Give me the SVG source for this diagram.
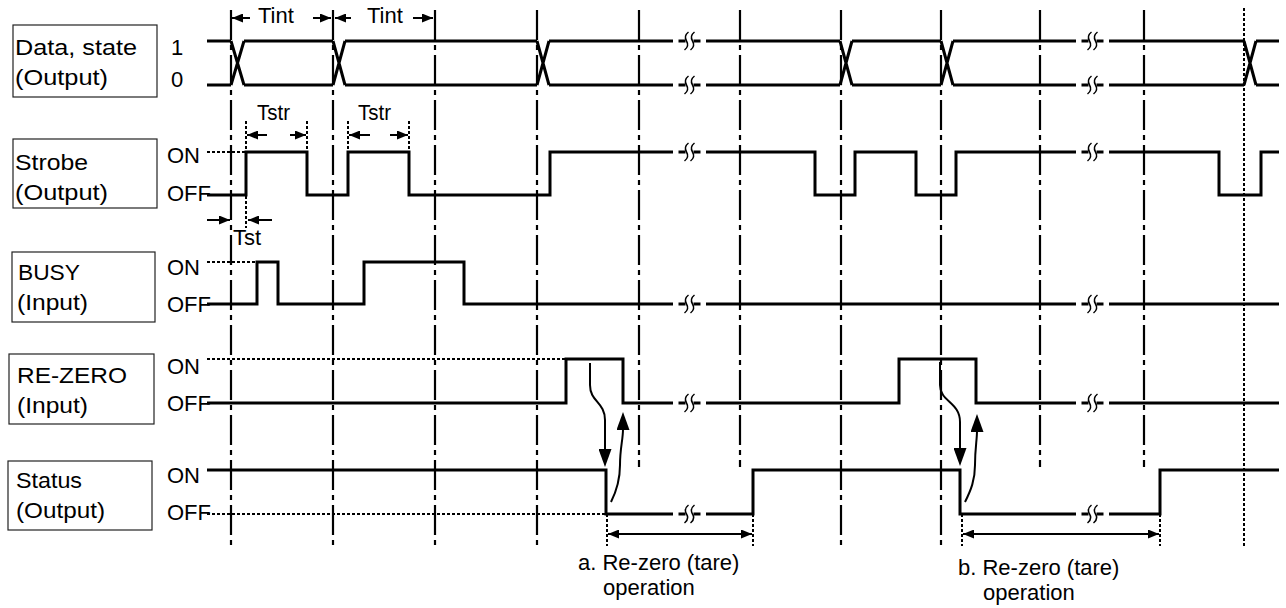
<svg xmlns="http://www.w3.org/2000/svg" width="1286" height="608" viewBox="0 0 1286 608">
<style>
text{font-family:"Liberation Sans",Arial,sans-serif;font-size:22px;fill:#000}
.box{fill:#fff;stroke:#222;stroke-width:1.2}
.sig{fill:none;stroke:#000;stroke-width:3;stroke-linejoin:miter;stroke-linecap:butt}
.grid{fill:none;stroke:#000;stroke-width:2.2;stroke-dasharray:30 5 5 5}
.dot{fill:none;stroke:#000;stroke-width:2;stroke-dasharray:3 2}
.dim{fill:none;stroke:#000;stroke-width:2}
.sq{fill:none;stroke:#000;stroke-width:1.5}
.ah{fill:#000}
</style>
<defs>
<marker id="arr" markerUnits="userSpaceOnUse" markerWidth="11" markerHeight="9" refX="11" refY="4.5" orient="auto-start-reverse"><path class="ah" d="M0,0L11,4.5L0,9z"/></marker>
<marker id="big" markerUnits="userSpaceOnUse" markerWidth="18" markerHeight="13" refX="1" refY="6.5" orient="auto"><path class="ah" d="M0,0L18,6.5L0,13z"/></marker>
<g id="brk"><path d="M-11,0H-4M4,0H11" stroke="#000" stroke-width="3"/><path class="sq" d="M-1,-9 Q-6,-5 -3,0 Q0,5 -5,9 M5,-9 Q0,-5 3,0 Q6,5 1,9"/></g>
</defs>

<g id="grid-lines">
<path class="grid" d="M231,10V548M333,10V548M435,10V548M537,10V548M639,10V467M740,10V467M841,10V548M941,10V548M1040,10V467M1144,10V467"/>
<path class="dot" d="M1244,8V548"/>
</g>

<g id="node-data">
<rect class="box" x="13" y="25" width="144" height="72"/>
<text x="15" y="55" textLength="122" lengthAdjust="spacingAndGlyphs">Data, state</text>
<text x="15" y="85" textLength="93" lengthAdjust="spacingAndGlyphs">(Output)</text>
<text x="177" y="55" text-anchor="middle">1</text>
<text x="177" y="87" text-anchor="middle">0</text>
<path class="sig" d="M207,41H231M244,41H333M345,41H537M549,41H673M706,41H840M852,41H941M953,41H1076M1109,41H1244M1256,41H1279"/>
<path class="sig" d="M207,85H231M244,85H333M345,85H537M549,85H673M706,85H840M852,85H941M953,85H1076M1109,85H1244M1256,85H1279"/>
<path class="sig" stroke-width="2.2" d="M231,41L244,85M231,85L244,41M333,41L345,85M333,85L345,41M537,41L549,85M537,85L549,41M840,41L852,85M840,85L852,41M941,41L953,85M941,85L953,41M1244,41L1256,85M1244,85L1256,41"/>
<use href="#brk" x="689.5" y="41"/><use href="#brk" x="1092.5" y="41"/>
<use href="#brk" x="689.5" y="85"/><use href="#brk" x="1092.5" y="85"/>
</g>

<g id="node-strobe">
<rect class="box" x="13" y="139" width="144" height="69"/>
<text x="15" y="170" textLength="73" lengthAdjust="spacingAndGlyphs">Strobe</text>
<text x="15" y="200" textLength="93" lengthAdjust="spacingAndGlyphs">(Output)</text>
<text x="167" y="163">ON</text>
<text x="167" y="201">OFF</text>
<path class="dot" d="M207,152H246"/>
<path class="sig" d="M207,195H246V152H307V195H348V152H409V195H550V152H673M706,152H815V195H855V152H916V195H956V152H1076M1109,152H1219V195H1261V152H1279"/>
<use href="#brk" x="689.5" y="152"/><use href="#brk" x="1092.5" y="152"/>
</g>

<g id="node-busy">
<rect class="box" x="12" y="252" width="143" height="70"/>
<text x="18" y="280" textLength="62" lengthAdjust="spacingAndGlyphs">BUSY</text>
<text x="17" y="310" textLength="71" lengthAdjust="spacingAndGlyphs">(Input)</text>
<text x="167" y="275">ON</text>
<text x="167" y="312">OFF</text>
<path class="dot" d="M207,262H257"/>
<path class="sig" d="M207,304H257V262H278V304H364V262H464V304H673M706,304H1076M1109,304H1279"/>
<use href="#brk" x="689.5" y="304"/><use href="#brk" x="1092.5" y="304"/>
</g>

<g id="node-rezero">
<rect class="box" x="9" y="354" width="145" height="70"/>
<text x="17" y="383" textLength="110" lengthAdjust="spacingAndGlyphs">RE-ZERO</text>
<text x="17" y="413" textLength="71" lengthAdjust="spacingAndGlyphs">(Input)</text>
<text x="167" y="374">ON</text>
<text x="167" y="411">OFF</text>
<path class="dot" d="M207,359H566"/>
<path class="sig" d="M207,403H566V359H623V403H673M706,403H899V359H976V403H1076M1109,403H1279"/>
<use href="#brk" x="689.5" y="403"/><use href="#brk" x="1092.5" y="403"/>
</g>

<g id="node-status">
<rect class="box" x="8" y="461" width="144" height="69"/>
<text x="16" y="488" textLength="66" lengthAdjust="spacingAndGlyphs">Status</text>
<text x="16" y="518" textLength="89" lengthAdjust="spacingAndGlyphs">(Output)</text>
<text x="167" y="483">ON</text>
<text x="167" y="520">OFF</text>
<path class="dot" d="M207,514H606"/>
<path class="sig" d="M207,470H606V514H673M706,514H753V470H960V514H1076M1109,514H1160V470H1279"/>
<use href="#brk" x="689.5" y="514"/><use href="#brk" x="1092.5" y="514"/>
</g>

<g id="connectors">
<path class="dim" marker-end="url(#arr)" d="M250,18H232"/>
<path class="dim" marker-end="url(#arr)" d="M313,18H331"/>
<path class="dim" marker-end="url(#arr)" d="M351,18H335"/>
<path class="dim" marker-end="url(#arr)" d="M413,18H433"/>
<path class="dot" d="M246,121V228M307,121V152M348,121V152M409,121V152"/>
<path class="dim" marker-end="url(#arr)" d="M267,135H247"/>
<path class="dim" marker-end="url(#arr)" d="M290,135H306"/>
<path class="dim" marker-end="url(#arr)" d="M370,135H349"/>
<path class="dim" marker-end="url(#arr)" d="M390,135H408"/>
<path class="dim" marker-end="url(#arr)" d="M207,220H230"/>
<path class="dim" marker-end="url(#arr)" d="M272,220H248"/>
<path class="dim" marker-end="url(#big)" d="M590,363V385C590,402 605,402 605,420V450"/>
<path class="dim" marker-end="url(#big)" d="M611,502C617,490 620,480 620,465C620,448 623,440 623,429"/>
<path class="dim" marker-end="url(#big)" d="M940,362V385C940,402 960,402 960,422V449"/>
<path class="dim" marker-end="url(#big)" d="M965,502C971,490 975,480 975,465C975,448 977,440 977,431"/>
<path class="dot" d="M607,514V546M753,514V546"/>
<path class="dim" marker-start="url(#arr)" marker-end="url(#arr)" d="M608,534H752"/>
<path class="dot" d="M962,514V546M1160,514V546"/>
<path class="dim" marker-start="url(#arr)" marker-end="url(#arr)" d="M963,534H1159"/>
</g>

<g id="labels">
<text x="258" y="23">Tint</text>
<text x="367" y="23">Tint</text>
<text x="257" y="120" textLength="33" lengthAdjust="spacingAndGlyphs">Tstr</text>
<text x="358" y="120" textLength="33" lengthAdjust="spacingAndGlyphs">Tstr</text>
<text x="233" y="245">Tst</text>
<text x="578" y="570">a. Re-zero (tare)</text>
<text x="603" y="595">operation</text>
<text x="958" y="575">b. Re-zero (tare)</text>
<text x="983" y="600">operation</text>
</g>
</svg>
